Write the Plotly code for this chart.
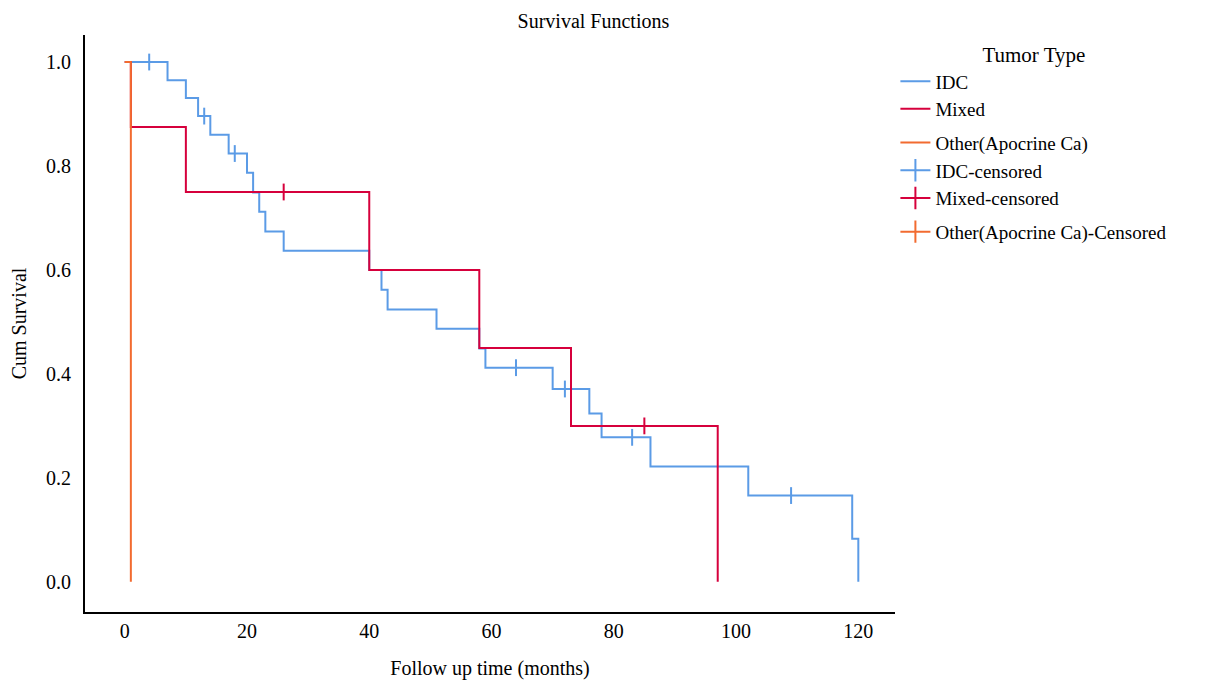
import plotly.graph_objects as go

# ---- data ----
idc_time = [0, 7, 10, 12, 14, 17, 20, 21, 22, 23, 26, 40, 42, 43, 51, 58, 59, 70, 76, 78, 86, 102, 119, 120]
idc_surv = [1.0, 0.965, 0.931, 0.896, 0.860, 0.824, 0.787, 0.749, 0.712, 0.674, 0.637, 0.600,
            0.562, 0.524, 0.487, 0.449, 0.412, 0.371, 0.324, 0.278, 0.222, 0.166, 0.083, 0.0]
idc_cens_time = [4, 13, 18, 64, 72, 83, 109]
idc_cens_surv = [1.0, 0.896, 0.824, 0.412, 0.371, 0.278, 0.166]

mixed_time = [0, 1, 10, 40, 58, 73, 97]
mixed_surv = [1.0, 0.875, 0.75, 0.60, 0.45, 0.30, 0.0]
mixed_cens_time = [26, 85]
mixed_cens_surv = [0.75, 0.30]

other_time = [0, 1]
other_surv = [1.0, 0.0]

x_ticks = [0, 20, 40, 60, 80, 100, 120]
y_ticks = [0.0, 0.2, 0.4, 0.6, 0.8, 1.0]
y_tick_text = ["0.0", "0.2", "0.4", "0.6", "0.8", "1.0"]

BLUE = "#5b9be6"
RED = "#d6003c"
ORANGE = "#f26b30"
FONT = "Liberation Serif"

fig = go.Figure()

# survival step lines
fig.add_trace(go.Scatter(x=idc_time, y=idc_surv, mode="lines", line=dict(color=BLUE, width=2, shape="hv"),
                         name="IDC", legendgroup="g1", showlegend=True))
fig.add_trace(go.Scatter(x=mixed_time, y=mixed_surv, mode="lines", line=dict(color=RED, width=2, shape="hv"),
                         name="Mixed", legendgroup="g1", showlegend=True))
fig.add_trace(go.Scatter(x=other_time, y=other_surv, mode="lines", line=dict(color=ORANGE, width=2, shape="hv"),
                         name="Other(Apocrine Ca)", legendgroup="g2", showlegend=True))

# censor marks
fig.add_trace(go.Scatter(x=idc_cens_time, y=idc_cens_surv, mode="markers",
                         marker=dict(symbol="line-ns-open", size=12, color=BLUE, line=dict(color=BLUE, width=2)),
                         name="IDC-censored", legendgroup="g2", showlegend=False))
fig.add_trace(go.Scatter(x=mixed_cens_time, y=mixed_cens_surv, mode="markers",
                         marker=dict(symbol="line-ns-open", size=12, color=RED, line=dict(color=RED, width=2)),
                         name="Mixed-censored", legendgroup="g2", showlegend=False))

# legend entries for censored series (line + tick gives the "+" glyph)
for nm, col, grp in [("IDC-censored", BLUE, "g2"), ("Mixed-censored", RED, "g2"),
                     ("Other(Apocrine Ca)-Censored", ORANGE, "g3")]:
    fig.add_trace(go.Scatter(x=[None], y=[None], mode="lines+markers", name=nm, legendgroup=grp,
                             line=dict(color=col, width=2),
                             marker=dict(symbol="line-ns-open", size=16, color=col, line=dict(color=col, width=2))))

axis_common = dict(showgrid=False, zeroline=False, showline=True, linecolor="black", linewidth=2,
                   ticks="", automargin=False, tickfont=dict(family=FONT, size=20, color="black"))

fig.update_layout(
    width=1212, height=682,
    margin=dict(l=77, r=325, t=27, b=78),
    paper_bgcolor="white", plot_bgcolor="white",
    font=dict(family=FONT, color="black"),
    title=dict(text="Survival Functions", x=0.483, xanchor="center", y=0.981, yanchor="middle",
               font=dict(family=FONT, size=20, color="black")),
    xaxis=dict(range=[-6.5, 126], tickvals=x_ticks, title=dict(text="Follow up time (months)",
               font=dict(family=FONT, size=20), standoff=20), **axis_common),
    yaxis=dict(range=[-0.058, 1.052], tickvals=y_ticks, ticktext=y_tick_text, ticklabelstandoff=8,
               title=dict(text="Cum Survival", font=dict(family=FONT, size=20), standoff=20), **axis_common),
    legend=dict(x=1.0005, xanchor="left", y=1.0, yanchor="top", traceorder="grouped", tracegroupgap=6,
                font=dict(family=FONT, size=19, color="black"),
                title=dict(text="Tumor Type", side="top center", font=dict(family=FONT, size=21)),
                itemwidth=30),
)

fig.write_html("out.html")
